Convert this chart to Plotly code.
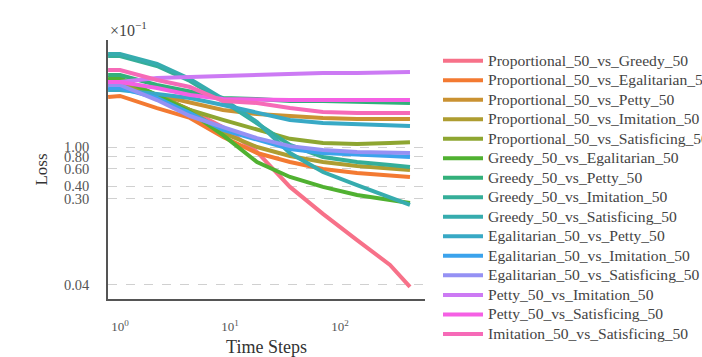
import math
import numpy as np
import plotly.graph_objects as go

# ---------------- data (loss shown in units of 1e-1) ----------------
time_steps = [0.78, 1.0, 2.17, 4.33, 8.64, 17.6, 35.1, 70.0, 143.0, 285.0, 433.0]

series_names = [
    "Proportional_50_vs_Greedy_50",
    "Proportional_50_vs_Egalitarian_50",
    "Proportional_50_vs_Petty_50",
    "Proportional_50_vs_Imitation_50",
    "Proportional_50_vs_Satisficing_50",
    "Greedy_50_vs_Egalitarian_50",
    "Greedy_50_vs_Petty_50",
    "Greedy_50_vs_Imitation_50",
    "Greedy_50_vs_Satisficing_50",
    "Egalitarian_50_vs_Petty_50",
    "Egalitarian_50_vs_Imitation_50",
    "Egalitarian_50_vs_Satisficing_50",
    "Petty_50_vs_Imitation_50",
    "Petty_50_vs_Satisficing_50",
    "Imitation_50_vs_Satisficing_50",
]

proportional_vs_greedy = [4.56, 4.56, 3.36, 2.37, 1.59, 0.890, 0.394, 0.210, 0.114, 0.0638, 0.0382]
proportional_vs_egalitarian = [3.21, 3.29, 2.48, 1.97, 1.26, 0.869, 0.705, 0.598, 0.545, 0.508, 0.497]
proportional_vs_petty = [4.25, 4.25, 3.36, 2.79, 2.37, 2.16, 2.06, 1.97, 1.92, 1.92, 1.92]
proportional_vs_imitation = [4.45, 4.45, 3.36, 2.37, 1.39, 1.00, 0.811, 0.705, 0.642, 0.598, 0.585]
proportional_vs_satisficing = [4.77, 4.77, 3.36, 2.37, 1.88, 1.49, 1.21, 1.10, 1.07, 1.10, 1.12]
greedy_vs_egalitarian = [5.00, 5.00, 3.36, 2.26, 1.32, 0.705, 0.497, 0.394, 0.327, 0.290, 0.271]
greedy_vs_petty = [5.36, 5.36, 4.25, 3.61, 3.14, 3.06, 2.92, 2.92, 2.86, 2.79, 2.79]
greedy_vs_imitation = [8.36, 8.36, 6.62, 4.66, 2.92, 1.75, 1.05, 0.792, 0.705, 0.657, 0.627]
greedy_vs_satisficing = [8.75, 8.75, 6.93, 4.89, 3.06, 1.79, 0.869, 0.558, 0.412, 0.312, 0.259]
egalitarian_vs_petty = [3.78, 3.78, 3.44, 3.14, 2.66, 2.21, 1.88, 1.75, 1.71, 1.67, 1.63]
egalitarian_vs_imitation = [3.96, 3.96, 3.14, 2.21, 1.49, 1.18, 0.954, 0.869, 0.830, 0.811, 0.792]
egalitarian_vs_satisficing = [4.25, 4.25, 2.99, 2.06, 1.59, 1.23, 1.02, 0.932, 0.890, 0.869, 0.869]
petty_vs_imitation = [4.56, 4.56, 5.00, 5.12, 5.24, 5.36, 5.49, 5.62, 5.62, 5.75, 5.75]
petty_vs_satisficing = [4.56, 4.56, 3.96, 3.36, 3.06, 2.99, 2.99, 2.99, 2.99, 2.99, 2.99]
imitation_vs_satisficing = [6.03, 6.03, 4.77, 4.05, 2.92, 2.79, 2.48, 2.26, 2.21, 2.21, 2.21]

series_values = [
    proportional_vs_greedy, proportional_vs_egalitarian, proportional_vs_petty,
    proportional_vs_imitation, proportional_vs_satisficing, greedy_vs_egalitarian,
    greedy_vs_petty, greedy_vs_imitation, greedy_vs_satisficing, egalitarian_vs_petty,
    egalitarian_vs_imitation, egalitarian_vs_satisficing, petty_vs_imitation,
    petty_vs_satisficing, imitation_vs_satisficing,
]

y_tick_values = [0.04, 0.30, 0.40, 0.60, 0.80, 1.00]
y_tick_labels = ["0.04", "0.30", "0.40", "0.60", "0.80", "1.00"]
x_tick_values = [1, 10, 100]
x_tick_labels = ["10<sup>0</sup>", "10<sup>1</sup>", "10<sup>2</sup>"]

# ---------------- husl palette (seaborn default for many hues) ----------------
_M = [[3.2406, -1.5372, -0.4986],
      [-0.9689, 1.8758, 0.0415],
      [0.0557, -0.2040, 1.0570]]
_REF_U, _REF_V = 0.19784, 0.46834
_LAB_E, _LAB_K = 0.008856, 903.3


def _max_chroma(L, H):
    hrad = math.radians(H)
    sinH, cosH = math.sin(hrad), math.cos(hrad)
    sub1 = (L + 16) ** 3 / 1560896.0
    sub2 = sub1 if sub1 > _LAB_E else L / _LAB_K
    result = float("inf")
    for m1, m2, m3 in _M:
        top = (0.99915 * m1 + 1.05122 * m2 + 1.14460 * m3) * sub2
        rbottom = 0.86330 * m3 - 0.17266 * m2
        lbottom = 0.12949 * m3 - 0.38848 * m1
        bottom = (rbottom * sinH + lbottom * cosH) * sub2
        for t in (0.0, 1.0):
            C = L * (top - 1.05122 * t) / (bottom + 0.17266 * sinH * t)
            if 0.0 < C < result:
                result = C
    return result


def _from_linear(c):
    return 12.92 * c if c <= 0.0031308 else 1.055 * c ** (1 / 2.4) - 0.055


def husl_to_hex(h, s, l):
    C = _max_chroma(l, h) / 100.0 * s
    hrad = math.radians(h)
    U, V = C * math.cos(hrad), C * math.sin(hrad)
    t = (l + 16) / 116.0
    varY = t ** 3 if t ** 3 > _LAB_E else (116 * t - 16) / _LAB_K
    varU = U / (13 * l) + _REF_U
    varV = V / (13 * l) + _REF_V
    Y = varY
    X = 0 - (9 * Y * varU) / ((varU - 4) * varV - varU * varV)
    Z = (9 * Y - (15 * varV * Y) - (varV * X)) / (3 * varV)
    rgb = [_from_linear(r[0] * X + r[1] * Y + r[2] * Z) for r in _M]
    rgb = [min(max(c, 0.0), 1.0) for c in rgb]
    return "#%02x%02x%02x" % tuple(int(round(c * 255)) for c in rgb)


n = len(series_names)
hues = (np.linspace(0, 1, n + 1)[:-1] + 0.01) % 1 * 359
palette = [husl_to_hex(hh, 0.9 * 99, 0.65 * 99) for hh in hues]

# ---------------- figure ----------------
FONT = "Liberation Serif"
W, H = 702, 357
mt, mb = 10, 10
plot_h = H - mt - mb
y_dom = [(H - 299 - mb) / plot_h, 1 - (40 - mt) / plot_h]

fig = go.Figure()
for name, vals, col in zip(series_names, series_values, palette):
    fig.add_trace(go.Scatter(
        x=time_steps, y=vals, mode="lines",
        name="<span style='font-size:15.6px'>" + name + "</span>",
        line=dict(color=col, width=4),
    ))

fig.update_layout(
    width=W, height=H,
    margin=dict(l=108, r=W - 425, t=mt, b=mb, autoexpand=False),
    paper_bgcolor="white", plot_bgcolor="white",
    font=dict(family=FONT, color="#444"),
    showlegend=True,
    legend=dict(
        x=(438 - 108) / (425 - 108), xanchor="left",
        y=1 - (46 - mt) / plot_h, yanchor="top",
        font=dict(family=FONT, size=12.7, color="#444"),
        bgcolor="rgba(0,0,0,0)", borderwidth=0,
        itemwidth=40,
    ),
    xaxis=dict(
        type="log", range=[-0.109, 2.773],
        tickvals=x_tick_values, ticktext=x_tick_labels,
        showgrid=False, zeroline=False,
        showline=True, linecolor="#555", linewidth=1.5,
        ticks="", ticklabelstandoff=15,
        tickfont=dict(family=FONT, size=13, color="#555"),
        title=dict(text="Time Steps", font=dict(family=FONT, size=18, color="#333"), standoff=16),
    ),
    yaxis=dict(
        type="log", range=[-1.540, 1.084], domain=y_dom,
        tickvals=y_tick_values, ticktext=y_tick_labels,
        showgrid=True, gridcolor="#d0d0d0", gridwidth=1, griddash="dash",
        zeroline=False,
        showline=True, linecolor="#555", linewidth=1.5,
        ticks="", ticklabelstandoff=14,
        tickfont=dict(family=FONT, size=14.5, color="#555"),
        title=dict(text="Loss", font=dict(family=FONT, size=17, color="#333"), standoff=12),
    ),
    annotations=[dict(
        text="×10<sup>−1</sup>", xref="paper", yref="paper",
        x=0, y=1 - (29 - mt) / plot_h, xanchor="left", yanchor="middle",
        showarrow=False, font=dict(family=FONT, size=16, color="#444"),
    )],
)

fig.write_html("out.html")
